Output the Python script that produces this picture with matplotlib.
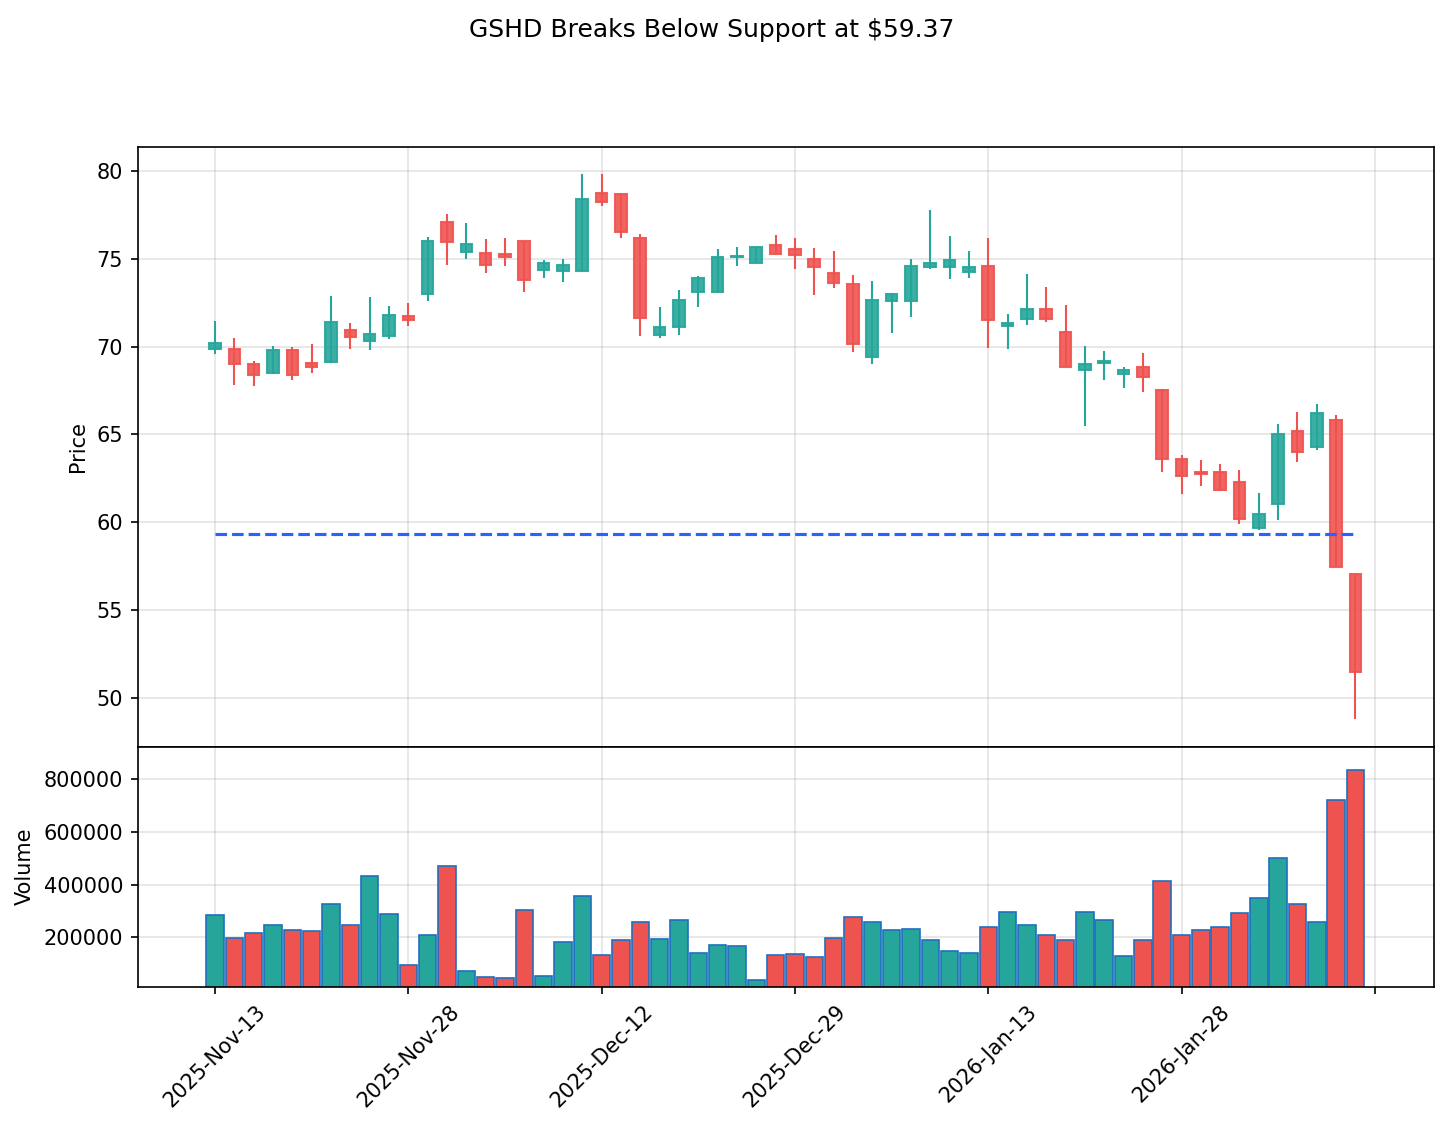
import numpy as np
import matplotlib.pyplot as plt

# daily OHLC (index 0 = 2025-11-13)
opens = np.array([69.85, 69.85, 69.00, 68.49, 69.80, 69.06, 69.11, 70.93, 70.31, 70.59,
                  71.73, 72.98, 77.07, 75.38, 75.34, 75.23, 75.99, 74.36, 74.28, 74.28,
                  78.71, 78.66, 76.14, 70.65, 71.10, 73.09, 73.09, 75.08, 74.74, 75.74,
                  75.53, 74.97, 74.17, 73.55, 69.41, 72.58, 72.58, 74.53, 74.51, 74.23,
                  74.57, 71.16, 71.56, 72.12, 70.80, 68.66, 69.08, 68.43, 68.83, 67.52,
                  63.60, 62.84, 62.86, 62.30, 59.68, 61.05, 65.21, 64.28, 65.82, 57.05])
highs = np.array([71.46, 70.49, 69.19, 70.04, 69.97, 70.15, 72.88, 71.35, 72.82, 72.31,
                  72.48, 76.21, 77.54, 77.03, 76.12, 76.18, 76.02, 74.91, 74.98, 79.81,
                  79.81, 78.70, 76.40, 72.26, 73.22, 74.00, 75.55, 75.66, 75.65, 76.33,
                  76.18, 75.61, 75.44, 74.06, 73.73, 73.03, 74.98, 77.77, 76.29, 75.44,
                  76.18, 71.86, 74.13, 73.39, 72.37, 70.04, 69.76, 68.85, 69.64, 67.58,
                  63.83, 63.56, 63.34, 63.00, 61.69, 65.61, 66.29, 66.74, 66.12, 57.07])
lows = np.array([69.55, 67.84, 67.78, 68.45, 68.07, 68.47, 69.08, 69.87, 69.81, 70.45,
                 71.19, 72.56, 74.66, 75.00, 74.15, 74.60, 73.07, 73.92, 73.64, 74.25,
                 77.96, 76.14, 70.62, 70.51, 70.68, 72.22, 73.02, 74.60, 74.72, 75.19,
                 74.43, 72.95, 73.30, 69.66, 69.03, 70.74, 71.65, 74.40, 73.81, 73.92,
                 69.94, 69.83, 71.25, 71.40, 68.83, 65.51, 68.12, 67.67, 67.44, 62.84,
                 61.59, 62.10, 61.76, 59.94, 59.59, 60.15, 63.45, 64.09, 57.45, 48.81])
closes = np.array([70.19, 69.00, 68.37, 69.80, 68.37, 68.83, 71.39, 70.53, 70.70, 71.78,
                   71.50, 75.99, 75.95, 75.80, 74.62, 75.08, 73.79, 74.77, 74.62, 78.37,
                   78.20, 76.50, 71.61, 71.08, 72.67, 73.89, 75.06, 75.14, 75.63, 75.27,
                   75.19, 74.53, 73.62, 70.14, 72.64, 72.98, 74.57, 74.77, 74.91, 74.51,
                   71.50, 71.33, 72.12, 71.56, 68.85, 69.00, 69.16, 68.66, 68.26, 63.60,
                   62.64, 62.76, 61.82, 60.19, 60.48, 65.02, 64.00, 66.22, 57.47, 51.50])
volumes = np.array([285000, 197700, 216600, 247000, 228000, 224200, 326700, 247000, 433000, 288800,
                    95200, 209100, 470900, 72500, 49700, 45900, 304000, 53500, 182500, 357100,
                    133200, 190100, 258400, 193900, 266000, 140800, 171200, 167400, 38300, 133200,
                    137000, 126800, 197700, 277400, 258400, 229200, 233000, 190100, 148400, 140800,
                    240600, 297500, 247000, 209100, 190100, 297500, 267200, 130500, 190100, 414000,
                    209100, 229200, 240600, 293700, 349500, 501300, 326700, 259600, 722600, 835200])

tick_pos = [0, 10, 20, 30, 40, 50, 60]
tick_labels = ['2025-Nov-13', '2025-Nov-28', '2025-Dec-12', '2025-Dec-29',
               '2026-Jan-13', '2026-Jan-28', '']
support = 59.37

#-----------------------------------------------------------------------------------------#

x = np.arange(len(opens))
colors = np.where(closes >= opens, '#26a69a', '#ef5350')

fig = plt.figure(figsize=(1448 / 150, 1126 / 150), dpi=150)
ax1 = fig.add_axes([0.0951, 0.3369, 0.8952, 0.5329])
ax2 = fig.add_axes([0.0951, 0.1237, 0.8952, 0.2131], sharex=ax1)

# candles
ax1.vlines(x, lows, highs, colors=colors, linewidth=1)
body_low = np.minimum(opens, closes)
body_h = np.maximum(np.abs(closes - opens), 0.06)
ax1.bar(x, body_h, bottom=body_low, width=0.6, color=colors, edgecolor=colors,
        linewidth=1, alpha=0.9)
ax1.hlines(support, x[0], x[-1], colors='#2962ff', linestyles='--', linewidth=1.5)
ax1.set_ylabel('Price')
ax1.grid(True, alpha=0.35)
ax1.set_axisbelow(True)
ax1.tick_params(labelbottom=False)

# volume
ax2.bar(x, volumes, width=0.9, color=colors, edgecolor='#1f6fc0', linewidth=0.8)
ax2.set_ylabel('Volume')
ax2.set_ylim(13000, 924000)
ax2.ticklabel_format(axis='y', style='plain')
ax2.grid(True, alpha=0.35)
ax2.set_axisbelow(True)
ax2.set_xticks(tick_pos)
ax2.set_xticklabels(tick_labels, rotation=45)
ax2.set_xlim(-4, 63.06)

fig.text(0.4917, 1 - 37 / 1126, 'GSHD Breaks Below Support at $59.37',
         ha='center', va='baseline', fontsize=12)

fig.savefig('out.png', dpi=150)
